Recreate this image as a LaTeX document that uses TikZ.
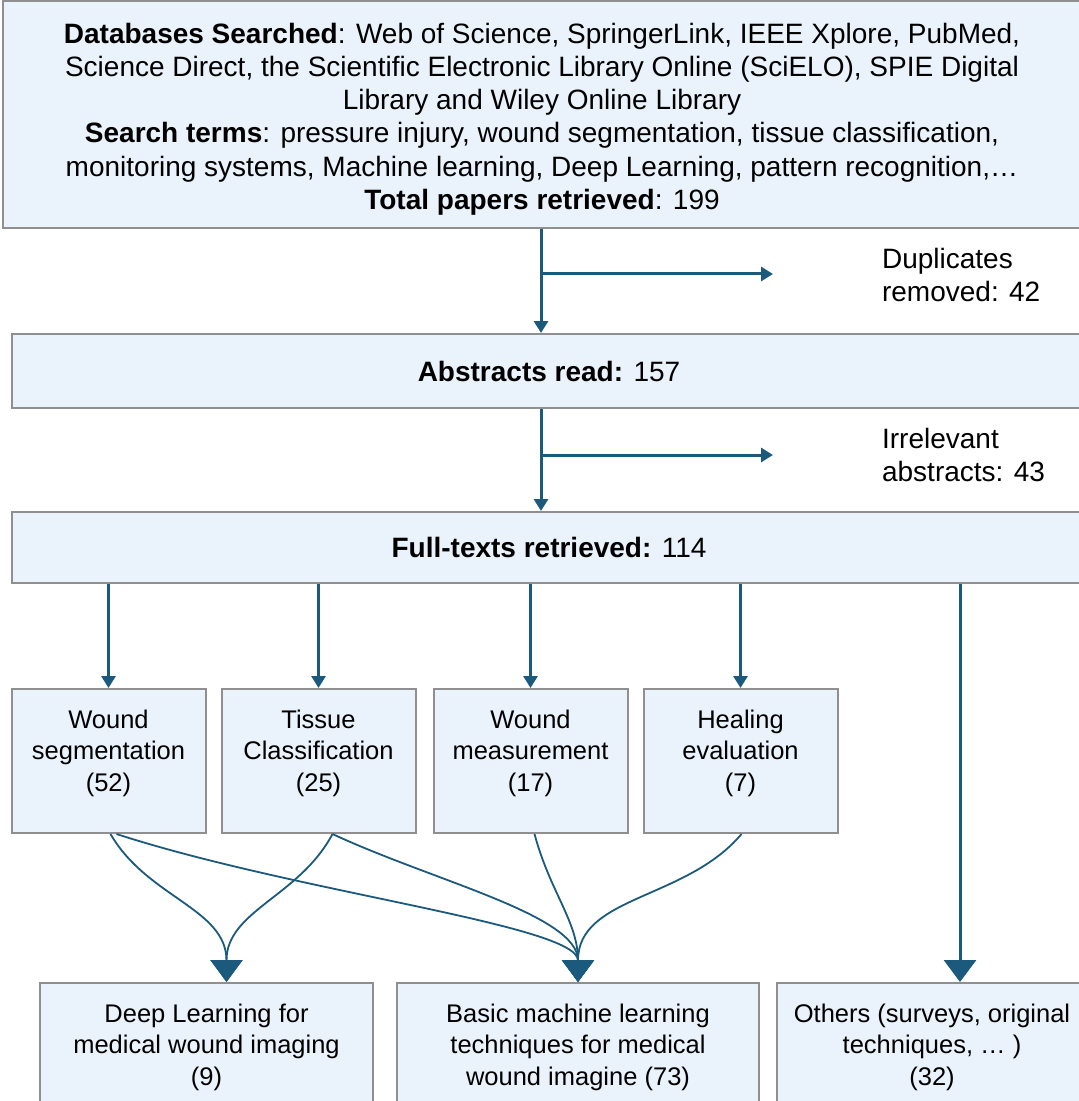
\documentclass[tikz,border=0pt]{standalone}
\usepackage{fontspec}
\setmainfont{Liberation Sans}
\usepackage{tikz}
\usetikzlibrary{positioning}
\usetikzlibrary{calc}
\usetikzlibrary{arrows.meta}

\definecolor{boxfill}{RGB}{234,242,251}
\definecolor{boxline}{RGB}{143,143,143}
\definecolor{flowblue}{RGB}{28,90,125}

\begin{document}
\begin{tikzpicture}[x=0.5pt, y=0.5pt,
    box/.style={draw=boxline, line width=1pt, fill=boxfill, align=center, inner sep=0pt, font=\fontsize{14}{16.6}\selectfont},
    catbox/.style={box, minimum width=97pt, minimum height=72pt, font=\fontsize{12.75}{15.75}\selectfont,
        execute at end node={\rule[-10.5pt]{0pt}{0pt}}},
    outbox/.style={catbox},
    note/.style={anchor=west, align=left, font=\fontsize{14}{16.5}\selectfont},
    flow/.style={draw=flowblue, line width=1.5pt, -{Triangle[width=7pt,length=6pt]}},
    bigflow/.style={draw=flowblue, line width=1.5pt, -{Triangle[width=16pt,length=11pt]}},
    merge/.style={draw=flowblue, line width=0.9pt, -{Triangle[width=16pt,length=11pt]}}]

    \useasboundingbox (0,0) rectangle (1078,-1101);

    % stages
    \node[box, minimum width=539pt, minimum height=113.5pt] (search) at (542,-114.5) {%
        \rule{0pt}{14.8pt}\textbf{Databases Searched}: Web of Science, SpringerLink, IEEE Xplore, PubMed,\\
        Science Direct, the Scientific Electronic Library Online (SciELO), SPIE Digital\\
        Library and Wiley Online Library\\
        \textbf{Search terms}: pressure injury, wound segmentation, tissue classification,\\
        monitoring systems, Machine learning, Deep Learning, pattern recognition,…\\
        \textbf{Total papers retrieved}: 199};
    \node[box, minimum width=537pt, minimum height=37pt] (abstracts) at (549,-371) {\textbf{Abstracts read:} 157};
    \node[box, minimum width=537pt, minimum height=35.5pt] (fulltexts) at (549,-547.5) {\textbf{Full-texts retrieved:} 114};

    \node[note] (dup) at (875,-275) {Duplicates\\removed: 42};
    \node[note] (irr) at (875,-455) {Irrelevant\\abstracts: 43};

    % categories
    \node[catbox] (seg) at (108.5,-761) {Wound\\segmentation\\(52)};
    \node[catbox, right=7pt of seg] (tissue) {Tissue\\Classification\\(25)};
    \node[catbox, right=8pt of tissue] (measure) {Wound\\measurement\\(17)};
    \node[catbox, right=7pt of measure] (healing) {Healing\\evaluation\\(7)};

    % outcomes
    \node[outbox, minimum width=166.5pt] (deep) at (206.5,-1055) {Deep Learning for\\medical wound imaging\\(9)};
    \node[outbox, minimum width=181pt, right=11pt of deep] (basic) {Basic machine learning\\techniques for medical\\wound imagine (73)};
    \node[outbox, minimum width=155pt, right=8pt of basic] (others) {Others (surveys, original\\techniques, … )\\(32)};

    \coordinate (spine) at (541,0);
    \coordinate (dupTip) at (773,-274);
    \coordinate (irrTip) at (773,-455);
    \coordinate (othIn) at (960,0);

    \draw[flow] (search.south -| spine) -- (abstracts.north -| spine);
    \draw[flow] (spine |- dupTip) -- (dupTip);
    \draw[flow] (abstracts.south -| spine) -- (fulltexts.north -| spine);
    \draw[flow] (spine |- irrTip) -- (irrTip);

    \foreach \cat in {seg, tissue, measure, healing}
        \draw[flow] (fulltexts.south -| \cat.north) -- (\cat.north);
    \draw[bigflow] (fulltexts.south -| othIn) -- (others.north -| othIn);

    \draw[merge] ([xshift=1pt]seg.south) to[out=-60, in=90] ([xshift=10pt]deep.north);
    \draw[merge] ([xshift=4pt]seg.south) to[out=-18, in=90, in looseness=0.3] (basic.north);
    \draw[merge] ([xshift=7pt]tissue.south) to[out=-118, in=90] ([xshift=10pt]deep.north);
    \draw[merge] ([xshift=7pt]tissue.south) to[out=-25, in=90, in looseness=0.6] (basic.north);
    \draw[merge] ([xshift=2pt]measure.south) to[out=-75, in=90] (basic.north);
    \draw[merge] ([xshift=0.5pt]healing.south) to[out=-130, in=90] (basic.north);

\end{tikzpicture}
\end{document}
